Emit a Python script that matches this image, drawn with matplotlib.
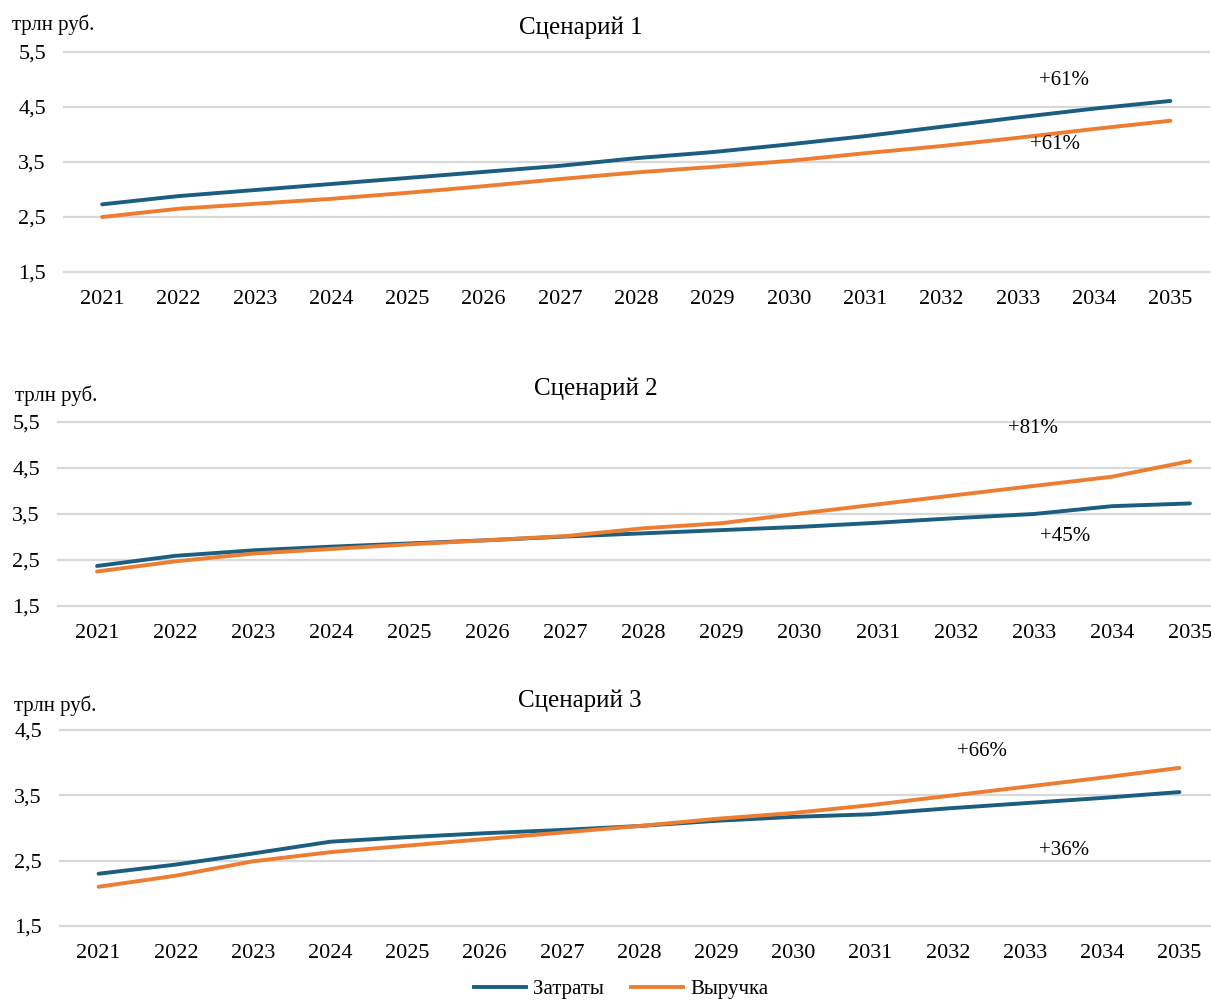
import matplotlib.pyplot as plt
from matplotlib.lines import Line2D

plt.rcParams['font.family'] = ['Liberation Serif', 'DejaVu Serif']

years = [str(y) for y in range(2021, 2036)]

# Сценарий 1
costs_1 = [2.73, 2.88, 2.99, 3.10, 3.21, 3.32, 3.43, 3.57, 3.68, 3.82, 3.97, 4.14, 4.31, 4.47, 4.61]
revenue_1 = [2.50, 2.65, 2.74, 2.83, 2.94, 3.06, 3.19, 3.31, 3.41, 3.52, 3.66, 3.79, 3.94, 4.10, 4.25]

# Сценарий 2
costs_2 = [2.37, 2.59, 2.71, 2.79, 2.86, 2.93, 3.01, 3.08, 3.15, 3.22, 3.31, 3.41, 3.50, 3.67, 3.73]
revenue_2 = [2.25, 2.47, 2.64, 2.74, 2.84, 2.93, 3.02, 3.19, 3.30, 3.51, 3.71, 3.91, 4.11, 4.31, 4.65]

# Сценарий 3
costs_3 = [2.30, 2.44, 2.61, 2.79, 2.86, 2.92, 2.97, 3.03, 3.11, 3.17, 3.21, 3.30, 3.38, 3.46, 3.55]
revenue_3 = [2.10, 2.27, 2.49, 2.63, 2.73, 2.83, 2.93, 3.03, 3.14, 3.23, 3.35, 3.49, 3.63, 3.77, 3.92]

yticks_12 = [1.5, 2.5, 3.5, 4.5, 5.5]
yticks_3 = [1.5, 2.5, 3.5, 4.5]

BLUE = '#1C5E80'
ORANGE = '#ED7D31'
GRID = '#D9D9D9'

W, H = 1211, 1001
fig = plt.figure(figsize=(W / 100, H / 100), dpi=100)


def px_axes(left, right, top, bottom):
    return fig.add_axes([left / W, 1 - bottom / H, (right - left) / W, (bottom - top) / H])


panels = [
    dict(box=(64, 1208.5, 52, 272), costs=costs_1, revenue=revenue_1, yticks=yticks_12,
         title='Сценарий 1', title_xy=(581, 28), unit_xy=(12, 25),
         notes=[('+61%', 12.6, 4.99), ('+61%', 12.49, 3.81)]),
    dict(box=(58, 1229, 422, 606), costs=costs_2, revenue=revenue_2, yticks=yticks_12,
         title='Сценарий 2', title_xy=(596, 389), unit_xy=(15, 396),
         notes=[('+81%', 11.99, 5.35), ('+45%', 12.4, 3.02)]),
    dict(box=(60, 1218, 730, 926), costs=costs_3, revenue=revenue_3, yticks=yticks_3,
         title='Сценарий 3', title_xy=(580, 701), unit_xy=(14, 706),
         notes=[('+66%', 11.44, 4.17), ('+36%', 12.51, 2.66)]),
]

x = list(range(len(years)))
for p in panels:
    ax = px_axes(*p['box'])
    ax.plot(x, p['costs'], color=BLUE, lw=2.8, solid_capstyle='round', zorder=3)
    ax.plot(x, p['revenue'], color=ORANGE, lw=2.8, solid_capstyle='round', zorder=3)
    ax.set_xlim(-0.5, len(years) - 0.5)
    ax.set_ylim(p['yticks'][0], p['yticks'][-1])
    ax.set_xticks(x)
    ax.set_xticklabels(years)
    ax.set_yticks(p['yticks'])
    ax.set_yticklabels([f'{v:.1f}'.replace('.', ',') for v in p['yticks']])
    ax.tick_params(length=0, labelsize=16, colors='black')
    ax.tick_params(axis='x', pad=13)
    ax.tick_params(axis='y', pad=13)
    ax.grid(axis='y', color=GRID, lw=1.6)
    ax.set_axisbelow(True)
    for s in ax.spines.values():
        s.set_visible(False)
    for g in ax.get_ygridlines():
        g.set_clip_on(False)
    for txt, nx, ny in p['notes']:
        ax.text(nx, ny, txt, ha='center', va='center', fontsize=15)
    fig.text(p['title_xy'][0] / W, 1 - p['title_xy'][1] / H, p['title'],
             ha='center', va='center', fontsize=18)
    fig.text(p['unit_xy'][0] / W, 1 - p['unit_xy'][1] / H, 'трлн руб.',
             ha='left', va='center', fontsize=15)

handles = [Line2D([], [], color=BLUE, lw=2.8), Line2D([], [], color=ORANGE, lw=2.8)]
fig.legend(handles, ['Затраты', 'Выручка'], loc='center', ncol=2, frameon=False,
           bbox_to_anchor=(621 / W, 1 - 989 / H), fontsize=15,
           handlelength=2.5, handletextpad=0.35, columnspacing=1.3)

fig.savefig('out.png', dpi=100, facecolor='white')
